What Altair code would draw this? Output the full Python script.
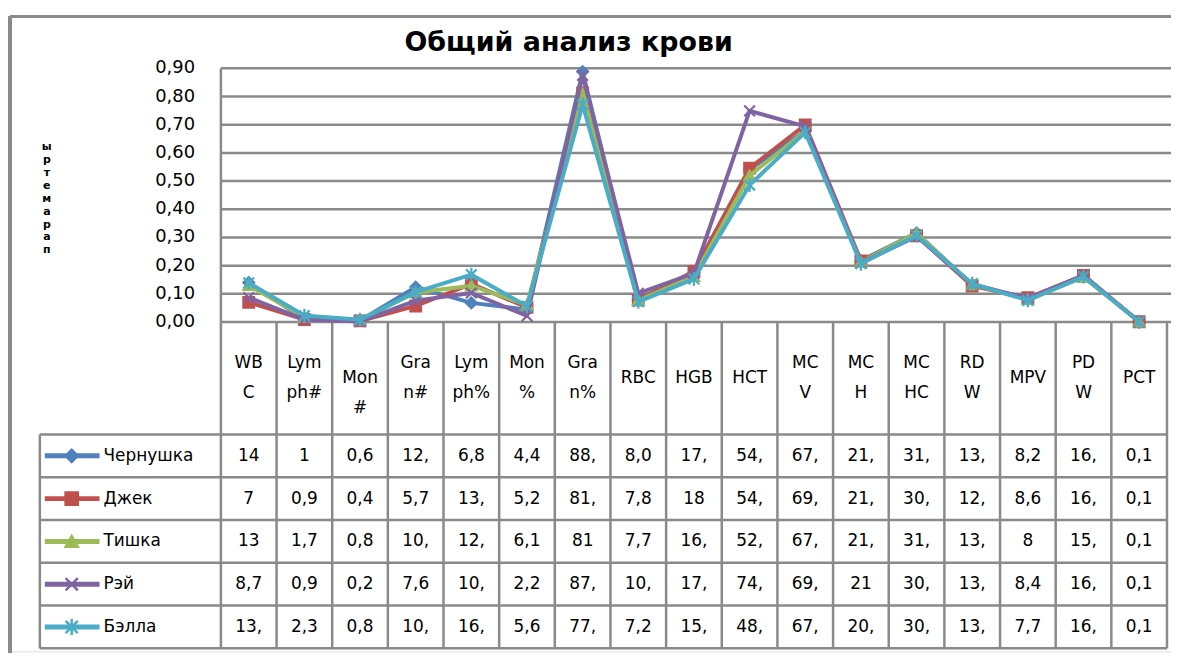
import altair as alt
import pandas as pd

# ---------------- data ----------------
categories = ["WBC", "Lymph#", "Mon#", "Gran#", "Lymph%", "Mon%", "Gran%", "RBC",
              "HGB", "HCT", "MCV", "MCH", "MCHC", "RDW", "MPV", "PDW", "PCT"]
header_lines = [["WB", "C"], ["Lym", "ph#"], ["", "Mon", "#"], ["Gra", "n#"], ["Lym", "ph%"],
                ["Mon", "%"], ["Gra", "n%"], ["RBC"], ["HGB"], ["HCT"], ["MC", "V"],
                ["MC", "H"], ["MC", "HC"], ["RD", "W"], ["MPV"], ["PD", "W"], ["PCT"]]
series_names = ["Чернушка", "Джек", "Тишка", "Рэй", "Бэлла"]
series_colors = ["#4F81BD", "#C0504D", "#9BBB59", "#8064A2", "#4BACC6"]
series_shapes = ["diamond", "square", "triangle-up",
                 "M-1,-1L1,1M-1,1L1,-1",
                 "M-1,-1L1,1M-1,1L1,-1M0,-1.3L0,1.3"]

values_chernushka = [14, 1, 0.6, 12.4, 6.8, 4.4, 88.8, 8.04, 17.5, 54.2, 67.8, 21.8, 31.6, 13.2, 8.2, 16.4, 0.11]
values_dzhek = [7, 0.9, 0.4, 5.7, 13.5, 5.2, 81.3, 7.8, 18, 54.6, 69.9, 21.7, 30.6, 12.8, 8.6, 16.5, 0.12]
values_tishka = [13, 1.7, 0.8, 10.5, 12.9, 6.1, 81, 7.7, 16.2, 52.0, 67.6, 21.3, 31.5, 13.3, 8, 15.9, 0.12]
values_rey = [8.7, 0.9, 0.2, 7.6, 10.3, 2.2, 87.5, 10.2, 17.3, 74.9, 69.4, 21, 30.4, 13.4, 8.4, 16.6, 0.11]
values_bella = [13.9, 2.3, 0.8, 10.6, 16.8, 5.6, 77.1, 7.2, 15.3, 48.6, 67.3, 20.7, 30.7, 13.6, 7.7, 16.1, 0.10]
all_values = [values_chernushka, values_dzhek, values_tishka, values_rey, values_bella]

# table cell texts as they appear (truncated by narrow columns)
cells_chernushka = ["14", "1", "0,6", "12,", "6,8", "4,4", "88,", "8,0", "17,", "54,", "67,", "21,", "31,", "13,", "8,2", "16,", "0,1"]
cells_dzhek = ["7", "0,9", "0,4", "5,7", "13,", "5,2", "81,", "7,8", "18", "54,", "69,", "21,", "30,", "12,", "8,6", "16,", "0,1"]
cells_tishka = ["13", "1,7", "0,8", "10,", "12,", "6,1", "81", "7,7", "16,", "52,", "67,", "21,", "31,", "13,", "8", "15,", "0,1"]
cells_rey = ["8,7", "0,9", "0,2", "7,6", "10,", "2,2", "87,", "10,", "17,", "74,", "69,", "21", "30,", "13,", "8,4", "16,", "0,1"]
cells_bella = ["13,", "2,3", "0,8", "10,", "16,", "5,6", "77,", "7,2", "15,", "48,", "67,", "20,", "30,", "13,", "7,7", "16,", "0,1"]
all_cells = [cells_chernushka, cells_dzhek, cells_tishka, cells_rey, cells_bella]

y_ticks = [0.0, 0.1, 0.2, 0.3, 0.4, 0.5, 0.6, 0.7, 0.8, 0.9]
y_title = "параметры"
chart_title = "Общий анализ крови"
value_factor = 0.01  # the chart plots table values / 100

# ---------------- layout (data units of the shared scales) ----------------
W, H = 1167, 638
XMIN, XMAX = -3.7898, 17.072
YMIN, YMAX = -1.1682, 1.0835
PX_PER_Y = H / (YMAX - YMIN)
N = len(categories)
HEADER_BOTTOM = -0.3988
ROW_H = 0.15176
TABLE_BOTTOM = HEADER_BOTTOM - ROW_H * len(series_names)
LEGEND_LEFT = -3.2535
LEG_LINE_START, LEG_LINE_END, LEG_MARK_X, LEG_TEXT_X = -3.164, -2.181, -2.681, -2.109
HEAD_LINE_PX = 30
YTITLE_X, YTITLE_Y, YTITLE_LINE_PX = -3.128, 0.4376, 13

FONT = "DejaVu Sans"
GRID = "#8a8a8a"

X = alt.Scale(domain=[XMIN, XMAX], nice=False, zero=False)
Y = alt.Scale(domain=[YMIN, YMAX], nice=False, zero=False)


def xq(f):
    return alt.X(f, type="quantitative", scale=X, axis=None)


def yq(f):
    return alt.Y(f, type="quantitative", scale=Y, axis=None)


# gridlines
grid_df = pd.DataFrame({"tick": y_ticks, "x0": 0.0, "x1": XMAX,
                        "label": [f"{v:.2f}".replace(".", ",") for v in y_ticks]})
grid = alt.Chart(grid_df).mark_rule(color=GRID, strokeWidth=2.5).encode(
    y=yq("tick"), x=xq("x0"), x2="x1")
ylabels = alt.Chart(grid_df).mark_text(font=FONT, fontSize=18, color="black", align="right",
                                       baseline="middle", dx=-26).encode(
    y=yq("tick"), x=xq("x0"), text="label:N")

# y axis title (letters stacked as in the original)
ytitle_lines = list(reversed(y_title))
ytitle_df = pd.DataFrame({"x": [YTITLE_X],
                          "y": [YTITLE_Y + (len(ytitle_lines) - 1) / 2 * YTITLE_LINE_PX / PX_PER_Y],
                          "t": [ytitle_lines]})
ytitle = alt.Chart(ytitle_df).mark_text(font=FONT, fontSize=11, fontWeight="bold", color="black",
                                        lineHeight=YTITLE_LINE_PX, align="center",
                                        baseline="middle").encode(x=xq("x"), y=yq("y"), text="t")

# table vertical lines
vx = [0.0] + [float(i) for i in range(1, N + 1)] + [LEGEND_LEFT]
vy = [0.9] + [0.0] * N + [HEADER_BOTTOM]
vlines_df = pd.DataFrame({"x": vx, "y": vy, "y2": TABLE_BOTTOM})
vlines = alt.Chart(vlines_df).mark_rule(color=GRID, strokeWidth=2.5).encode(
    x=xq("x"), y=yq("y"), y2="y2")

# table horizontal lines
hy = [HEADER_BOTTOM - ROW_H * r for r in range(len(series_names) + 1)]
hlines_df = pd.DataFrame({"y": hy, "x": LEGEND_LEFT, "x2": float(N)})
hlines = alt.Chart(hlines_df).mark_rule(color=GRID, strokeWidth=2.5).encode(
    y=yq("y"), x=xq("x"), x2="x2")

# header texts (multi-line blocks centred vertically in the header row)
head_df = pd.DataFrame({"x": [i + 0.5 for i in range(N)],
                        "y": [HEADER_BOTTOM / 2 + (len(l) - 1) / 2 * HEAD_LINE_PX / PX_PER_Y
                              for l in header_lines],
                        "lines": header_lines})
head = alt.Chart(head_df).mark_text(font=FONT, fontSize=17, color="black",
                                    lineHeight=HEAD_LINE_PX,
                                    align="center", baseline="middle").encode(
    x=xq("x"), y=yq("y"), text="lines")

# cell texts
rows = []
for r, cells in enumerate(all_cells):
    for i, t in enumerate(cells):
        rows.append({"x": i + 0.5, "y": HEADER_BOTTOM - ROW_H * (r + 0.5), "t": t})
cell_df = pd.DataFrame(rows)
cells_layer = alt.Chart(cell_df).mark_text(font=FONT, fontSize=17, color="black",
                                           align="center", baseline="middle").encode(
    x=xq("x"), y=yq("y"), text="t:N")

# legend keys inside the table
leg_df = pd.DataFrame({"series": series_names,
                       "y": [HEADER_BOTTOM - ROW_H * (r + 0.5) for r in range(len(series_names))],
                       "x0": LEG_LINE_START, "x1": LEG_LINE_END, "xm": LEG_MARK_X, "xt": LEG_TEXT_X})
cscale = alt.Scale(domain=series_names, range=series_colors)
sscale = alt.Scale(domain=series_names, range=series_shapes)
leg_lines = alt.Chart(leg_df).mark_rule(strokeWidth=5).encode(
    x=xq("x0"), x2="x1", y=yq("y"),
    color=alt.Color("series:N", scale=cscale, legend=None))
leg_pts = alt.Chart(leg_df).mark_point(filled=True, size=150, strokeWidth=2.5, opacity=1).encode(
    x=xq("xm"), y=yq("y"),
    shape=alt.Shape("series:N", scale=sscale, legend=None),
    fill=alt.Fill("series:N", scale=cscale, legend=None),
    stroke=alt.Stroke("series:N", scale=cscale, legend=None))
leg_txt = alt.Chart(leg_df).mark_text(font=FONT, fontSize=17, color="black",
                                      align="left", baseline="middle").encode(
    x=xq("xt"), y=yq("y"), text="series:N")

# frame (top and left edges)
frame_top = alt.Chart(grid_df).mark_rule(color=GRID, strokeWidth=3).encode(
    x=alt.value(0), x2=alt.value(W), y=alt.value(0))
frame_left = alt.Chart(grid_df).mark_rule(color=GRID, strokeWidth=3).encode(
    x=alt.value(0), y=alt.value(0), y2=alt.value(H + 20))

layers = [frame_top, frame_left, grid, ylabels, ytitle, vlines, hlines, head, cells_layer,
          leg_lines, leg_pts, leg_txt]

# data series
for name, color, shape, vals in zip(series_names, series_colors, series_shapes, all_values):
    df = pd.DataFrame({"x": [i + 0.5 for i in range(N)],
                       "y": [v * value_factor for v in vals],
                       "param": categories, "series": name})
    line = alt.Chart(df).mark_line(color=color, strokeWidth=4).encode(x=xq("x"), y=yq("y"))
    pts = alt.Chart(df).mark_point(shape=shape, filled=True, fill=color, stroke=color,
                                   size=115, strokeWidth=2.2, opacity=1).encode(x=xq("x"), y=yq("y"))
    layers += [line, pts]

chart = alt.layer(*layers).properties(
    width=W, height=H,
    padding={"left": 2, "top": 7, "right": 0, "bottom": 0},
    autosize=alt.AutoSizeParams(type="none"),
    title=alt.Title(chart_title, font=FONT, fontSize=27, fontWeight="bold", color="black",
                    anchor="middle", frame="group", dx=-22, dy=27, offset=-36,
                    baseline="alphabetic"),
).configure_view(stroke=None).configure(background="white")

chart.save("out.html", embed_options={"renderer": "svg", "actions": False})
